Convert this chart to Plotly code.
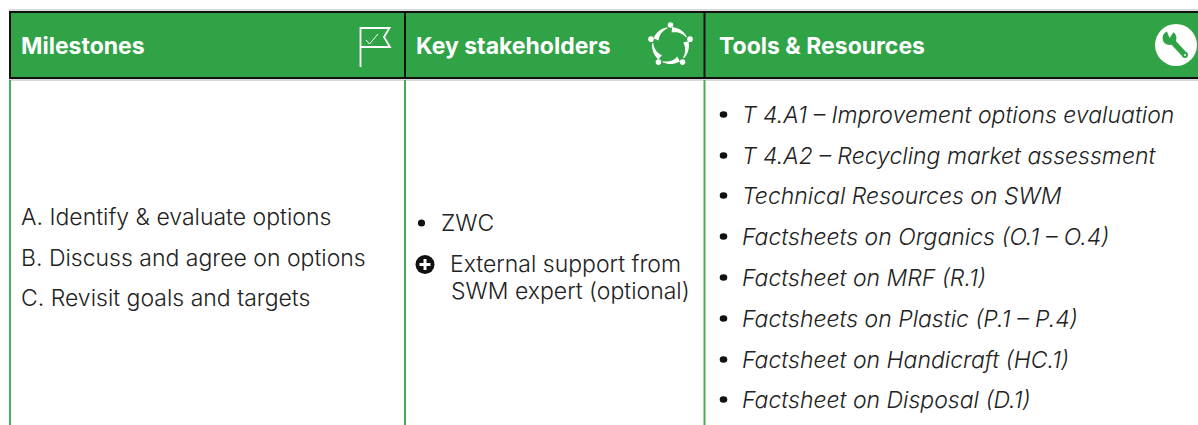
import math
import plotly.graph_objects as go

GREEN = "#2fa346"
FONT = "Inter"
INK = "#222222"

headers = ["Milestones", "Key stakeholders", "Tools & Resources"]
header_x = [21, 416, 719]
milestones = ["A. Identify & evaluate options", "B. Discuss and agree on options", "C. Revisit goals and targets"]
milestone_y = [217, 258, 298]
stake_lines = ["ZWC", "External support from", "SWM expert (optional)"]
stake_x = [441, 450, 451]
stake_y = [223, 264, 291]
tools = [
    "T 4.A1 – Improvement options evaluation",
    "T 4.A2 – Recycling market assessment",
    "Technical Resources on SWM",
    "Factsheets on Organics (O.1 – O.4)",
    "Factsheet on MRF (R.1)",
    "Factsheets on Plastic (P.1 – P.4)",
    "Factsheet on Handicraft (HC.1)",
    "Factsheet on Disposal (D.1)",
]
tools_y = [115, 156, 196, 237, 278, 319, 360, 400]

shapes = []
def rect(x0, y0, x1, y1, color):
    shapes.append(dict(type="rect", x0=x0, y0=y0, x1=x1, y1=y1, fillcolor=color,
                       line=dict(width=0), layer="above"))
def seg(x0, y0, x1, y1, color, w):
    shapes.append(dict(type="line", x0=x0, y0=y0, x1=x1, y1=y1, line=dict(color=color, width=w), layer="above"))
def path(d, color=None, fill=None, w=1.5):
    shapes.append(dict(type="path", path=d, fillcolor=fill or "rgba(0,0,0,0)",
                       line=dict(color=color or "rgba(0,0,0,0)", width=w if color else 0), layer="above"))
def circle(cx, cy, r, color, ry=None):
    ry = r if ry is None else ry
    shapes.append(dict(type="circle", x0=cx-r, y0=cy-ry, x1=cx+r, y1=cy+ry, fillcolor=color, line=dict(width=0), layer="above"))

# Header band and frame
rect(9, 11, 1198, 79, GREEN)
seg(9, 10, 1198, 10, "#b5b5b5", 1)
seg(9, 12, 1198, 12, "#111111", 2)
seg(9, 78, 1198, 78, "#111111", 2)
seg(9, 80, 1198, 80, "#b0b0b0", 1)
seg(10, 12, 10, 79, "#111111", 2)
for x in (405, 704.5):
    seg(x, 12, x, 79, "#111111", 2)
for x in (10, 405, 704.5):
    seg(x, 80, x, 425, "#45ad5a", 2)

# Flag icon
path("M360.5,67 L360.5,28 L389.5,28 L384,37 L390,47 L360.5,47", color="white", w=1.8)
path("M366,40 L369.5,44 L378,34", color="white", w=1)

# Stakeholders icon: five people in a ring, each a tapered band with a head
cx, cy = 670.5, 45.5
for k in range(5):
    mid = -90 + k * 72
    a0 = math.radians(mid + 5)
    n = 12
    step = 0.09
    outer = [(cx + 18.5 * math.cos(a0 + i * step), cy + 18.5 * math.sin(a0 + i * step)) for i in range(n)]
    inner = [(cx + (13 + 0.4 * i) * math.cos(a0 + i * step), cy + (13 + 0.4 * i) * math.sin(a0 + i * step)) for i in range(n)]
    pts = outer + inner[::-1]
    path("M" + " L".join(f"{p[0]:.1f},{p[1]:.1f}" for p in pts) + " Z", fill="white")
    hm = math.radians(mid)
    circle(cx + 20.5 * math.cos(hm), cy + 20.5 * math.sin(hm), 2.8, "white")

# Wrench icon
circle(1176, 45, 21, "white")
seg(1171, 40, 1185, 55, GREEN, 5.5)
circle(1185, 55, 3, GREEN)
circle(1169.5, 38, 7, GREEN)
path("M1169.5,38 L1166,29 L1175,30 Z", fill="white")
circle(1185, 55, 1, "white")

# Stakeholder bullets
circle(421.5, 223, 3.6, "#111111")
circle(425, 264.5, 9.5, "#111111")
rect(419.5, 263, 430.5, 266, "white")
rect(423.5, 259, 426.5, 270, "white")

annotations = []
def text(x, y, s, size, color=INK, bold=False, italic=False):
    annotations.append(dict(x=x - 2, y=y, text=s, showarrow=False, xanchor="left", yanchor="middle",
                            align="left", xref="x", yref="y",
                            font=dict(family=FONT, size=size, color=color,
                                      weight=700 if bold else 300,
                                      style="italic" if italic else "normal")))

for x, h in zip(header_x, headers):
    text(x, 45.5, h, 23, "white", bold=True)
for y, m in zip(milestone_y, milestones):
    text(21, y, m, 23)
for x, y, s in zip(stake_x, stake_y, stake_lines):
    text(x, y, s, 23)
for y, t in zip(tools_y, tools):
    text(742, y, t, 23, italic=True)
    circle(723.5, y - 0.5, 3.8, "#111111", ry=3.3)

fig = go.Figure()
fig.add_trace(go.Scatter(x=[0, 1198], y=[0, 425], mode="markers", marker=dict(opacity=0), hoverinfo="skip", showlegend=False))
fig.update_layout(
    width=1198, height=425, margin=dict(l=0, r=0, t=0, b=0),
    paper_bgcolor="white", plot_bgcolor="white", showlegend=False,
    xaxis=dict(range=[0, 1198], visible=False, fixedrange=True),
    yaxis=dict(range=[425, 0], visible=False, fixedrange=True),
    shapes=shapes, annotations=annotations,
)
fig.write_html("out.html", config={"displayModeBar": False},
               post_script="document.body.style.margin='0';document.body.style.overflow='hidden';")
